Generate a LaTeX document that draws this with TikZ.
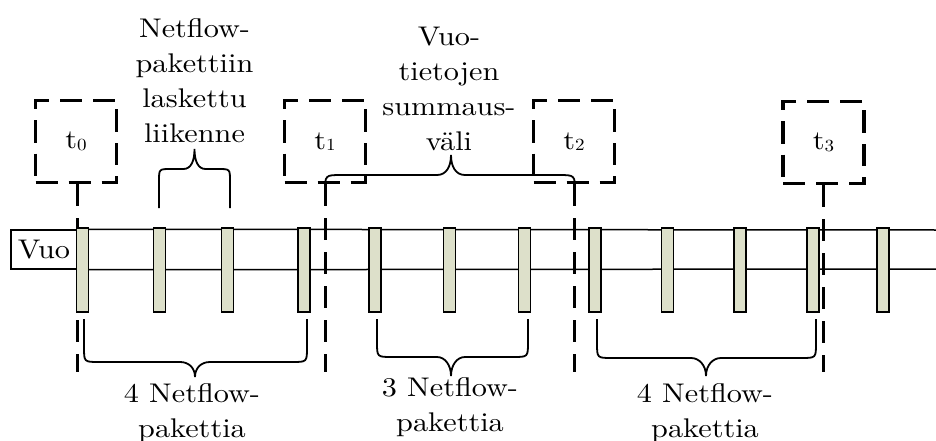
\documentclass[tikz,border=0pt]{standalone}
\usepackage{fontspec}
\setmainfont{lmroman10-regular}[Extension=.otf, FakeStretch=1.12]
\definecolor{pktfill}{HTML}{DDE0CA}
\newcommand{\tlab}[1]{t{\fontsize{17}{17}\selectfont\raisebox{-1.5pt}{#1}}}
\begin{document}
\begin{tikzpicture}[x=1pt,y=-1pt,
  lbl/.style={font=\fontsize{27}{35}\selectfont, align=center, inner sep=0pt, anchor=north},
  tbox/.style={draw, line width=3.2pt, dash pattern=on 22pt off 11pt,
    minimum width=81pt, minimum height=82pt, inner sep=0pt,
    font=\fontsize{27}{27}\selectfont},
  tline/.style={line width=3pt, dash pattern=on 22pt off 12pt},
  band/.style={line width=1.5pt},
  pkt/.style={draw, line width=1.5pt, fill=pktfill, minimum width=12pt,
    minimum height=84pt, inner sep=0pt},
  brace/.style={line width=1.8pt},
]
\useasboundingbox (0,0) rectangle (936,441);

% flow band
\node[draw, band, minimum width=66pt, minimum height=39pt, inner sep=0pt,
      font=\fontsize{27}{27}\selectfont] (vuo) at (44,249.5) {Vuo};
\coordinate (bandTop) at (936,230);
\coordinate (bandBot) at (936,269);
\draw[band] (vuo.north east) -- (bandTop);
\draw[band] (vuo.south east) -- (bandBot);

% time instants
\node[tbox] (t0) at (76,141.5) {\tlab{0}};
\node[tbox] (t1) at (325,141.5) {\tlab{1}};
\node[tbox] (t2) at (574,141.5) {\tlab{2}};
\node[tbox] (t3) at (823.5,142.5) {\tlab{3}};
\foreach \t/\x in {t0/77,t1/325,t2/574,t3/823}{
  \coordinate (\t end) at (\x,372);
  \draw[tline] (\t.south -| \t end) -- (\t end);
}

% Netflow packets
\foreach \i/\x in {1/82.5,2/159.5,3/227.5,4/304,5/375,6/449.5,7/524.5,
                   8/595,9/667.5,10/740,11/813,12/883}{
  \node[pkt] (p\i) at (\x,270) {};
}

% braces above the flow
\draw[brace] (159,208) -- (159,181)
  .. controls (159,169) .. (171,169) -- (183.5,169)
  .. controls (191,169) and (194.5,161) .. (194.5,149)
  .. controls (194.5,161) and (198,169) .. (205.5,169) -- (218,169)
  .. controls (230,169) .. (230,181) -- (230,208);
\draw[brace] (325,193) -- (325,192)
  .. controls (325,175) .. (342,175) -- (437,175)
  .. controls (446,175) and (451,167) .. (451,155)
  .. controls (451,167) and (456,175) .. (465,175) -- (558,175)
  .. controls (575,175) .. (575,192) -- (575,193);

% braces below the flow
\draw[brace] (84,319) -- (84,347)
  .. controls (84,362) .. (99,362) -- (180,362)
  .. controls (189,362) and (195,368) .. (195,377)
  .. controls (195,368) and (201,362) .. (210,362) -- (292,362)
  .. controls (307,362) .. (307,347) -- (307,319);
\draw[brace] (377,319) -- (377,342)
  .. controls (377,357) .. (392,357) -- (437,357)
  .. controls (445,357) and (451,365) .. (451,376)
  .. controls (451,365) and (457,357) .. (465,357) -- (513,357)
  .. controls (528,357) .. (528,342) -- (528,319);
\draw[brace] (597,319) -- (597,343)
  .. controls (597,358) .. (612,358) -- (691,358)
  .. controls (699,358) and (706,365) .. (706,376)
  .. controls (706,365) and (713,358) .. (721,358) -- (801,358)
  .. controls (816,358) .. (816,343) -- (816,319);

% labels
\node[lbl] (lblTraffic) at (194.5,18.3) {Netflow-\\pakettiin\\laskettu\\liikenne};
\node[lbl] (lblWindow) at (449,26.6) {Vuo-\\tietojen\\summaus-\\väli};
\node[lbl] (lblA) at (192,383.3) {4 Netflow-\\pakettia};
\node[lbl] (lblB) at (450,377.3) {3 Netflow-\\pakettia};
\node[lbl] (lblC) at (705,383.3) {4 Netflow-\\pakettia};
\end{tikzpicture}
\end{document}
